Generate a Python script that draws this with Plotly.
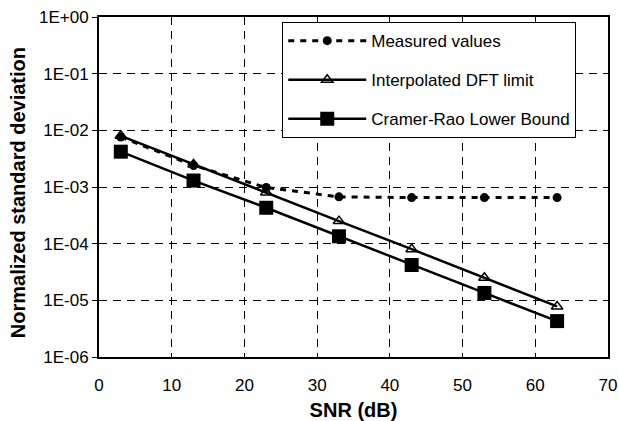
import plotly.graph_objects as go

snr = [3, 13, 23, 33, 43, 53, 63]
measured = [7.6e-3, 2.4e-3, 9.8e-4, 6.7e-4, 6.5e-4, 6.5e-4, 6.5e-4]
dft_limit = [8.0e-3, 2.5e-3, 8.0e-4, 2.5e-4, 8.0e-5, 2.5e-5, 7.8e-6]
crlb = [4.2e-3, 1.3e-3, 4.3e-4, 1.35e-4, 4.2e-5, 1.35e-5, 4.3e-6]

y_tickvals = [1e-6, 1e-5, 1e-4, 1e-3, 1e-2, 1e-1, 1e0]
y_ticktext = ["1E-06", "1E-05", "1E-04", "1E-03", "1E-02", "1E-01", "1E+00"]
x_tickvals = [0, 10, 20, 30, 40, 50, 60, 70]

FONT = "Liberation Sans, Arial, sans-serif"

fig = go.Figure()
fig.add_trace(go.Scatter(
    x=snr, y=measured, name="Measured values", mode="lines+markers", legendgroup="a",
    line=dict(color="black", width=3, dash="6px,6px"),
    marker=dict(symbol="circle", size=9, color="black")))
fig.add_trace(go.Scatter(
    x=snr, y=dft_limit, name="Interpolated DFT limit", mode="lines+markers", legendgroup="b",
    line=dict(color="black", width=2.5),
    marker=dict(symbol="triangle-up-open", size=10, color="black", line=dict(width=1.5))))
fig.add_trace(go.Scatter(
    x=snr, y=crlb, name="Cramer-Rao Lower Bound", mode="lines+markers", legendgroup="c",
    line=dict(color="black", width=2.5),
    marker=dict(symbol="square", size=14, color="black")))

fig.update_layout(
    width=619, height=421,
    margin=dict(l=99, r=11, t=17, b=64, autoexpand=False),
    paper_bgcolor="white", plot_bgcolor="white",
    font=dict(family=FONT, size=17, color="black"),
    legend=dict(x=0.36, y=0.985, xanchor="left", yanchor="top",
                bgcolor="white", bordercolor="black", borderwidth=1,
                font=dict(size=17), tracegroupgap=14, itemwidth=78),
    showlegend=True,
    annotations=[dict(
        text="<b>Normalized standard deviation</b>", textangle=-90,
        xref="paper", yref="paper", x=-0.159, y=0.482,
        xanchor="center", yanchor="middle", showarrow=False,
        font=dict(size=20, family=FONT, color="black"))],
)
fig.update_xaxes(
    range=[0, 70], tickvals=x_tickvals, showline=True, linecolor="black", linewidth=2,
    mirror=True, showgrid=True, gridcolor="black", griddash="8px,6px", gridwidth=1,
    ticks="", zeroline=False, automargin=True, ticklabelstandoff=12,
    title=dict(text="<b>SNR (dB)</b>", font=dict(size=20), standoff=9),
)
fig.update_yaxes(
    type="log", range=[-6, 0], tickvals=y_tickvals, ticktext=y_ticktext, ticksuffix=" ",
    showline=True, linecolor="black", linewidth=2, mirror=True,
    showgrid=True, gridcolor="black", griddash="8px,6px", gridwidth=1,
    ticks="outside", ticklen=5, tickcolor="black", zeroline=False, automargin=True,
)

fig.write_html("out.html", config={"displayModeBar": False},
               post_script="document.body.style.margin='0';document.body.style.padding='0';")
